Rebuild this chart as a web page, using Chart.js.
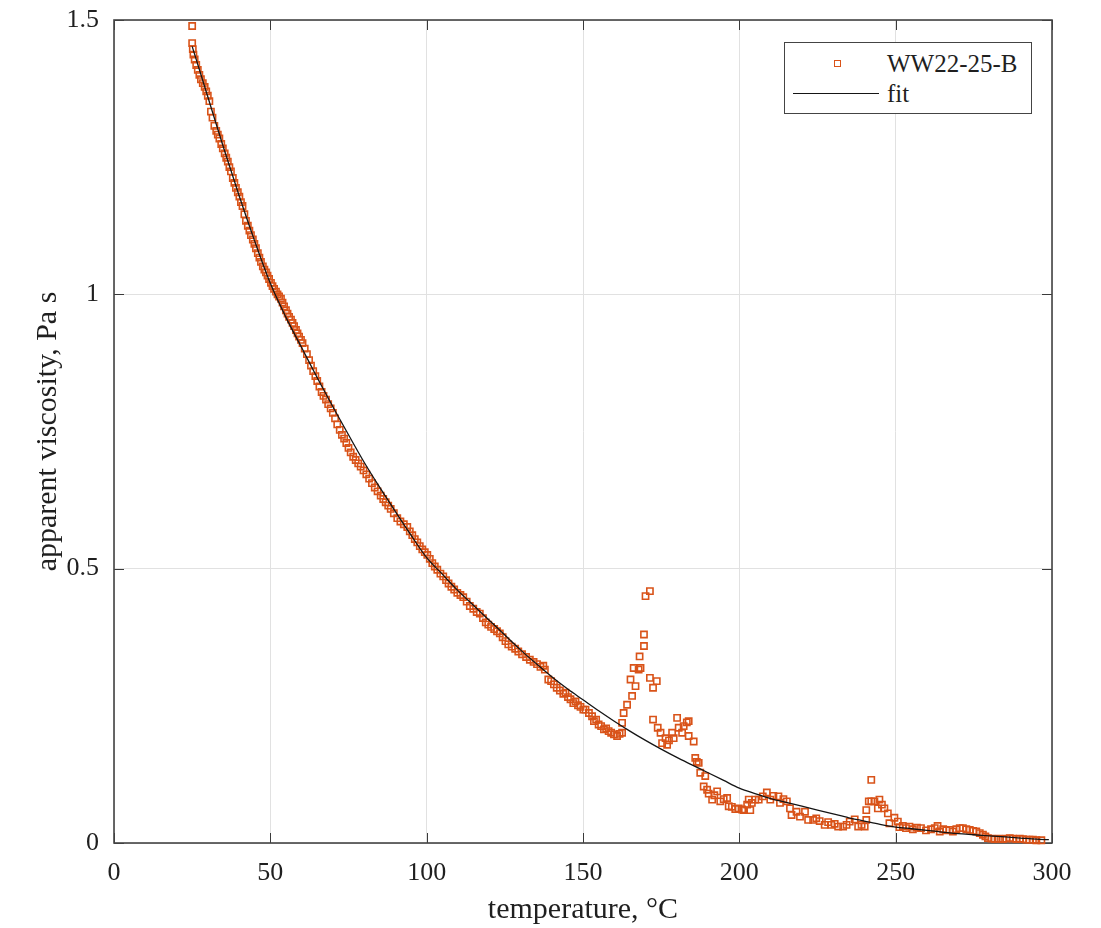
<!DOCTYPE html>
<html>
<head>
<meta charset="utf-8">
<title>Apparent viscosity vs temperature</title>
<script src="https://cdn.jsdelivr.net/npm/chart.js@4.4.0/dist/chart.umd.min.js"></script>
<style>
    body { margin: 0; background: #fff; }
    #wrap { position: relative; width: 1101px; height: 928px; }
    #legend {
        position: absolute; left: 784px; top: 42px; width: 248px; height: 72px;
        box-sizing: border-box; border: 1.5px solid #444; background: #fff;
        font-family: 'Liberation Serif', serif; font-size: 25px; color: #1f1f1f;
    }
    #legend .marker { position: absolute; left: 49px; top: 17px; width: 7px; height: 7px; box-sizing: border-box; border: 1.6px solid #D95319; }
    #legend .line { position: absolute; left: 8px; top: 50px; width: 86px; border-top: 1.5px solid #151515; }
    #legend .label { position: absolute; left: 102px; line-height: 25px; white-space: nowrap; }
</style>
</head>
<body>
<div id="wrap">
    <canvas id="viscosityChart" width="1101" height="928"></canvas>
    <div id="legend">
        <span class="marker"></span><span class="label" style="top:8px">WW22-25-B</span>
        <span class="line"></span><span class="label" style="top:38px">fit</span>
    </div>
</div>
<script>
// measured points, WW22-25-B (temperature in °C, apparent viscosity in Pa s)
const temperature = [
    25.0, 25.0, 25.2, 25.4, 25.8, 26.3, 26.8, 27.3, 27.8, 28.4, 29.0, 29.5, 30.0, 30.5, 31.0, 31.5,
    32.1, 32.7, 33.2, 33.7, 34.3, 34.8, 35.4, 35.9, 36.4, 36.9, 37.4, 38.0, 38.5, 39.0, 39.6, 40.1,
    40.6, 41.1, 41.7, 42.2, 42.8, 43.3, 43.8, 44.4, 44.9, 45.4, 46.0, 46.5, 47.0, 47.6, 48.1, 48.6,
    49.1, 49.6, 50.2, 50.7, 51.2, 51.8, 52.3, 52.8, 53.4, 53.9, 54.4, 55.0, 55.5, 56.0, 56.6, 57.1,
    57.6, 58.2, 58.7, 59.2, 59.8, 60.3, 61.0, 61.7, 62.4, 63.0, 63.7, 64.4, 65.0, 65.7, 66.4, 67.0,
    67.8, 68.5, 69.3, 70.0, 70.7, 71.4, 72.2, 72.9, 73.6, 74.3, 75.0, 75.7, 76.5, 77.3, 78.1, 78.9,
    79.8, 80.7, 81.6, 82.5, 83.4, 84.3, 85.3, 86.1, 86.9, 87.7, 88.5, 89.5, 90.6, 91.6, 92.7, 93.8,
    94.6, 95.4, 96.2, 97.0, 97.8, 98.6, 99.4, 100.2, 101.0, 101.8, 102.6, 103.4, 104.4, 105.3, 106.2, 107.0,
    107.9, 108.8, 109.8, 110.8, 111.7, 112.8, 113.8, 114.9, 116.0, 117.0, 118.0, 118.9, 119.7, 120.6, 121.6, 122.5,
    123.4, 124.3, 125.2, 126.1, 127.2, 128.3, 129.3, 130.5, 131.8, 133.0, 134.2, 135.3, 136.4, 137.3, 137.8, 138.9,
    139.8, 140.7, 141.6, 142.6, 143.7, 144.4, 145.2, 146.0, 146.9, 147.6, 148.4, 149.2, 150.1, 150.8, 151.9, 152.9,
    153.5, 154.2, 155.0, 155.8, 156.7, 157.4, 158.2, 159.0, 159.9, 160.9, 161.7, 162.5, 162.5, 163.0, 164.1, 165.2,
    165.7, 166.2, 166.8, 167.8, 168.1, 168.4, 169.5, 169.5, 170.0, 171.4, 171.4, 172.4, 172.4, 173.6, 173.9, 174.8,
    175.3, 176.4, 176.9, 177.5, 178.5, 179.0, 180.1, 180.6, 181.7, 182.2, 183.2, 183.8, 183.8, 185.4, 185.9, 186.4,
    187.0, 187.5, 188.6, 189.1, 189.7, 190.2, 191.3, 192.0, 192.9, 193.9, 195.0, 196.1, 196.6, 197.6, 198.7, 199.8,
    200.9, 201.4, 202.5, 203.0, 203.5, 204.0, 205.1, 206.2, 207.5, 208.8, 209.9, 210.9, 212.5, 213.0, 214.1, 215.2,
    216.2, 216.7, 218.3, 219.4, 221.0, 222.0, 223.6, 224.6, 225.7, 227.3, 228.4, 229.4, 230.5, 231.6, 233.2, 234.3,
    235.3, 236.9, 238.0, 239.1, 240.1, 240.6, 240.6, 241.4, 242.2, 242.2, 243.2, 244.3, 244.8, 245.6, 246.4, 247.5,
    248.0, 249.6, 250.7, 251.2, 252.3, 253.3, 254.4, 255.5, 256.8, 258.1, 259.7, 261.3, 262.5, 263.4, 264.1, 265.2,
    266.2, 267.2, 268.3, 269.4, 270.5, 271.5, 272.6, 273.7, 274.8, 275.8, 276.9, 277.9, 278.7, 279.5, 280.6, 281.7,
    283.0, 284.3, 285.4, 286.5, 287.5, 288.6, 289.7, 290.7, 291.8, 292.8, 293.9, 295.0, 296.6
];
const viscosity = [
    1.489, 1.458, 1.447, 1.437, 1.428, 1.418, 1.409, 1.400, 1.392, 1.385, 1.378, 1.370, 1.362, 1.352, 1.333, 1.322,
    1.307, 1.298, 1.291, 1.284, 1.274, 1.266, 1.257, 1.249, 1.242, 1.232, 1.224, 1.212, 1.203, 1.194, 1.186, 1.178,
    1.168, 1.161, 1.146, 1.134, 1.125, 1.116, 1.108, 1.100, 1.092, 1.084, 1.075, 1.067, 1.059, 1.051, 1.045, 1.040,
    1.034, 1.028, 1.021, 1.015, 1.010, 1.005, 1.000, 0.996, 0.992, 0.985, 0.978, 0.971, 0.965, 0.959, 0.954, 0.948,
    0.942, 0.935, 0.929, 0.923, 0.917, 0.911, 0.901, 0.891, 0.880, 0.870, 0.860, 0.851, 0.842, 0.832, 0.822, 0.815,
    0.808, 0.800, 0.792, 0.784, 0.774, 0.763, 0.753, 0.744, 0.737, 0.729, 0.720, 0.712, 0.704, 0.698, 0.692, 0.686,
    0.679, 0.672, 0.664, 0.656, 0.648, 0.641, 0.633, 0.627, 0.621, 0.615, 0.609, 0.601, 0.592, 0.586, 0.581, 0.576,
    0.568, 0.561, 0.554, 0.548, 0.541, 0.535, 0.530, 0.525, 0.518, 0.510, 0.504, 0.498, 0.491, 0.486, 0.479, 0.473,
    0.467, 0.462, 0.456, 0.452, 0.448, 0.440, 0.432, 0.427, 0.421, 0.418, 0.410, 0.402, 0.398, 0.394, 0.390, 0.386,
    0.382, 0.375, 0.368, 0.362, 0.358, 0.354, 0.349, 0.344, 0.339, 0.334, 0.330, 0.326, 0.321, 0.323, 0.316, 0.298,
    0.295, 0.289, 0.283, 0.278, 0.272, 0.274, 0.266, 0.262, 0.255, 0.258, 0.251, 0.248, 0.243, 0.243, 0.237, 0.231,
    0.222, 0.225, 0.216, 0.213, 0.207, 0.209, 0.204, 0.201, 0.198, 0.195, 0.199, 0.201, 0.219, 0.237, 0.252, 0.298,
    0.268, 0.319, 0.286, 0.316, 0.340, 0.319, 0.359, 0.380, 0.450, 0.459, 0.301, 0.283, 0.225, 0.295, 0.210, 0.201,
    0.182, 0.191, 0.179, 0.187, 0.201, 0.191, 0.228, 0.210, 0.201, 0.213, 0.220, 0.222, 0.195, 0.185, 0.155, 0.148,
    0.146, 0.128, 0.103, 0.122, 0.097, 0.090, 0.079, 0.087, 0.094, 0.076, 0.080, 0.082, 0.067, 0.066, 0.062, 0.063,
    0.061, 0.060, 0.070, 0.079, 0.060, 0.073, 0.079, 0.079, 0.085, 0.092, 0.079, 0.086, 0.085, 0.073, 0.080, 0.076,
    0.063, 0.051, 0.057, 0.048, 0.057, 0.042, 0.042, 0.045, 0.040, 0.033, 0.038, 0.033, 0.035, 0.030, 0.030, 0.033,
    0.039, 0.043, 0.030, 0.033, 0.030, 0.042, 0.060, 0.076, 0.115, 0.076, 0.076, 0.063, 0.079, 0.070, 0.063, 0.054,
    0.036, 0.046, 0.039, 0.029, 0.031, 0.027, 0.030, 0.025, 0.028, 0.027, 0.023, 0.025, 0.027, 0.031, 0.021, 0.025,
    0.023, 0.024, 0.021, 0.025, 0.027, 0.027, 0.025, 0.024, 0.022, 0.021, 0.018, 0.015, 0.012, 0.009, 0.008, 0.007,
    0.008, 0.007, 0.008, 0.009, 0.008, 0.007, 0.008, 0.007, 0.006, 0.006, 0.006, 0.005, 0.005
];

// fitted curve
const fitTemperature = [
    25, 30, 35, 40, 45, 50, 55, 60, 65, 70, 75, 80, 85, 90, 95, 100, 105, 110, 115, 120,
    125, 130, 135, 140, 145, 150, 155, 160, 165, 170, 175, 180, 185, 190, 195, 200, 205, 210, 215, 220,
    225, 230, 235, 240, 245, 250, 255, 260, 265, 270, 275, 280, 285, 290, 295, 299
];
const fitViscosity = [
    1.452, 1.360, 1.268, 1.180, 1.097, 1.020, 0.958, 0.903, 0.848, 0.795, 0.744, 0.694, 0.648, 0.604, 0.561, 0.520, 0.490, 0.460, 0.433, 0.406,
    0.379, 0.352, 0.327, 0.303, 0.281, 0.261, 0.241, 0.222, 0.204, 0.187, 0.171, 0.156, 0.142, 0.128, 0.114, 0.100, 0.090, 0.081, 0.074, 0.067,
    0.060, 0.053, 0.046, 0.040, 0.034, 0.029, 0.026, 0.023, 0.020, 0.017, 0.015, 0.013, 0.011, 0.009, 0.007, 0.006
];

const xTicks = [0, 50, 100, 150, 200, 250, 300];
const yTicks = [0, 0.5, 1, 1.5];

const textColor = '#1f1f1f';
const serif = "'Liberation Serif', 'Times New Roman', serif";

// MATLAB style box with inward tick marks on all four sides
const frameTicks = {
    id: 'frameTicks',
    beforeDatasetsDraw(chart) {
        const { ctx, chartArea: a, scales: { x, y } } = chart;
        ctx.save();
        ctx.strokeStyle = '#3a3a3a';
        ctx.lineWidth = 1;
        ctx.beginPath();
        xTicks.forEach(v => {
            const px = Math.round(x.getPixelForValue(v)) + 0.5;
            ctx.moveTo(px, a.bottom); ctx.lineTo(px, a.bottom - 10);
            ctx.moveTo(px, a.top); ctx.lineTo(px, a.top + 10);
        });
        yTicks.forEach(v => {
            const py = Math.round(y.getPixelForValue(v)) + 0.5;
            ctx.moveTo(a.left, py); ctx.lineTo(a.left + 10, py);
            ctx.moveTo(a.right, py); ctx.lineTo(a.right - 10, py);
        });
        ctx.stroke();
        ctx.lineWidth = 1.6;
        ctx.strokeStyle = '#444';
        ctx.strokeRect(a.left, a.top, a.right - a.left, a.bottom - a.top);
        ctx.restore();
    }
};

document.addEventListener('DOMContentLoaded', () => {
    const ctx = document.getElementById('viscosityChart').getContext('2d');

    new Chart(ctx, {
        type: 'scatter',
        data: {
            datasets: [
                {
                    label: 'fit',
                    data: fitTemperature.map((t, i) => ({ x: t, y: fitViscosity[i] })),
                    showLine: true,
                    borderColor: '#151515',
                    borderWidth: 1.3,
                    pointRadius: 0,
                    cubicInterpolationMode: 'monotone',
                    fill: false
                },
                {
                    label: 'WW22-25-B',
                    data: temperature.map((t, i) => ({ x: t, y: viscosity[i] })),
                    pointStyle: 'rect',
                    pointRadius: 4.4,
                    borderWidth: 1.6,
                    borderColor: '#D95319',
                    backgroundColor: 'rgba(0,0,0,0)',
                    clip: false
                }
            ]
        },
        options: {
            responsive: false,
            animation: false,
            layout: { padding: { top: 20, right: 49, left: 0, bottom: 0 } },
            plugins: {
                legend: { display: false },
                tooltip: { enabled: false }
            },
            scales: {
                x: {
                    type: 'linear',
                    min: 0,
                    max: 300,
                    afterBuildTicks: scale => { scale.ticks = xTicks.map(v => ({ value: v })); },
                    afterFit: scale => { scale.height = 85; },
                    grid: { color: '#e1e1e1', lineWidth: 1, drawTicks: false },
                    border: { display: false },
                    ticks: { padding: 15, color: textColor, font: { family: serif, size: 26 }, callback: v => String(v) },
                    title: {
                        display: true,
                        text: 'temperature, °C',
                        color: textColor,
                        font: { family: serif, size: 30 },
                        padding: { top: 0, bottom: 0 }
                    }
                },
                y: {
                    type: 'linear',
                    min: 0,
                    max: 1.5,
                    afterBuildTicks: scale => { scale.ticks = yTicks.map(v => ({ value: v })); },
                    afterFit: scale => { scale.width = 114; scale.paddingTop = 0; },
                    grid: { color: '#e1e1e1', lineWidth: 1, drawTicks: false },
                    border: { display: false },
                    ticks: { padding: 15, color: textColor, font: { family: serif, size: 26 }, callback: v => String(v) },
                    title: {
                        display: true,
                        text: 'apparent viscosity, Pa s',
                        color: textColor,
                        font: { family: serif, size: 30 },
                        padding: { top: 30, bottom: 0 }
                    }
                }
            }
        },
        plugins: [frameTicks]
    });
});
</script>
</body>
</html>
